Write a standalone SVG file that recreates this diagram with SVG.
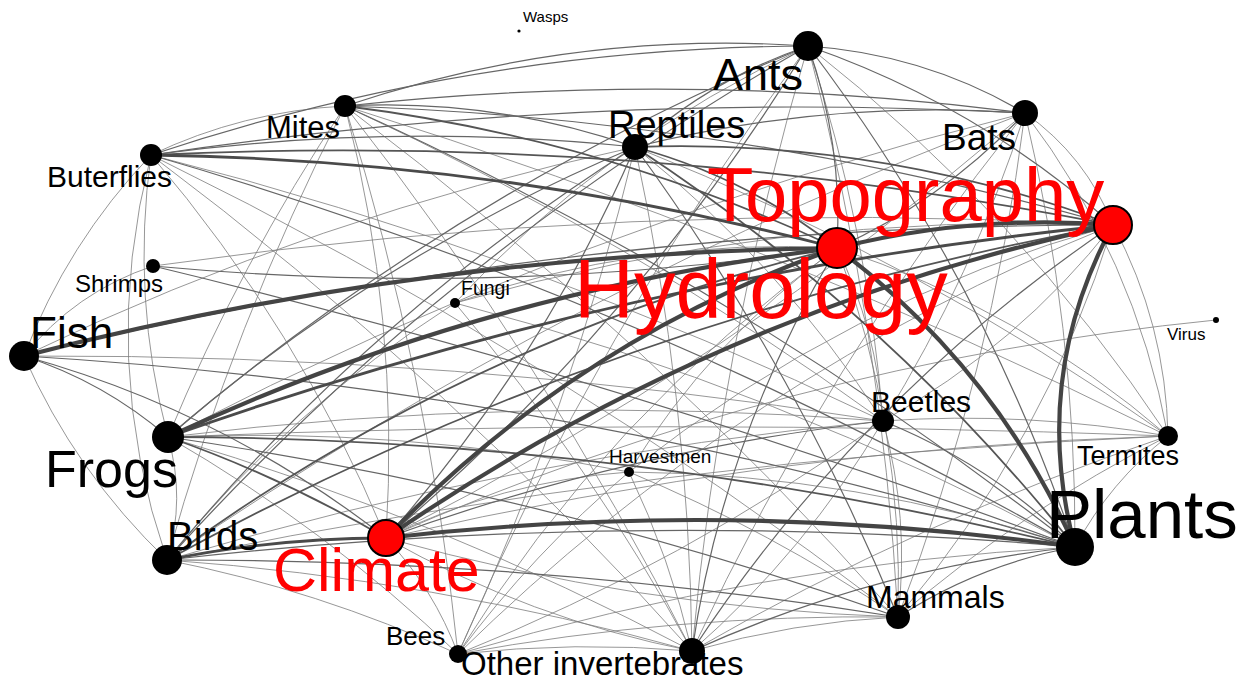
<svg xmlns="http://www.w3.org/2000/svg" width="1247" height="681" viewBox="0 0 1247 681">
<style>
.e path{fill:none;stroke-linecap:round}
.e1{stroke:#7c7c7c;stroke-width:0.8}
.e2{stroke:#666666;stroke-width:1.2}
.e3{stroke:#555555;stroke-width:1.8}
.e4{stroke:#4a4a4a;stroke-width:2.8}
.e5{stroke:#444444;stroke-width:4.2}
.n{fill:#000}
.r{fill:#ff0000;stroke:#000;stroke-width:2}
text{font-family:"Liberation Sans",Arial,sans-serif;fill:#000}
.rt{fill:#ff0000}
</style>
<rect width="1247" height="681" fill="#ffffff"/>
<g id="edges" class="e">
<path class="e1" d="M24 356 Q75 292 153 266"/>
<path class="e1" d="M153 266 Q631 198 1113 225"/>
<path class="e1" d="M386 538 Q784 363 1216 320"/>
<path class="e1" d="M24 356 Q75 472 167 560"/>
<path class="e1" d="M151 155 Q98 360 167 560"/>
<path class="e1" d="M151 155 Q131 298 168 437"/>
<path class="e1" d="M168 437 Q240 263 345 106"/>
<path class="e1" d="M24 356 Q67 243 151 155"/>
<path class="e1" d="M455 303 Q778 211 1113 225"/>
<path class="e1" d="M629 472 Q846 300 1113 225"/>
<path class="e1" d="M458 654 Q743 374 1113 225"/>
<path class="e1" d="M1113 225 Q1018 346 883 421"/>
<path class="e1" d="M1113 225 Q1166 324 1168 436"/>
<path class="e1" d="M1113 225 Q1045 443 898 617"/>
<path class="e1" d="M1025 113 Q1086 156 1113 225"/>
<path class="e1" d="M455 303 Q641 237 837 248"/>
<path class="e1" d="M629 472 Q711 339 837 248"/>
<path class="e1" d="M458 654 Q607 413 837 248"/>
<path class="e1" d="M837 248 Q877 330 883 421"/>
<path class="e1" d="M837 248 Q1021 309 1168 436"/>
<path class="e1" d="M837 248 Q904 426 898 617"/>
<path class="e1" d="M345 106 Q400 319 386 538"/>
<path class="e1" d="M151 155 Q299 328 386 538"/>
<path class="e1" d="M1025 113 Q731 364 386 538"/>
<path class="e1" d="M898 617 Q637 608 386 538"/>
<path class="e1" d="M692 651 Q530 619 386 538"/>
<path class="e1" d="M386 538 Q434 589 458 654"/>
<path class="e1" d="M386 538 Q772 448 1168 436"/>
<path class="e1" d="M386 538 Q501 481 629 472"/>
<path class="e1" d="M1025 113 Q1076 327 1075 547"/>
<path class="e1" d="M1075 547 Q1110 482 1168 436"/>
<path class="e1" d="M458 654 Q760 564 1075 547"/>
<path class="e1" d="M629 472 Q858 474 1075 547"/>
<path class="e1" d="M455 303 Q780 388 1075 547"/>
<path class="e1" d="M808 46 Q868 229 883 421"/>
<path class="e1" d="M808 46 Q1019 212 1168 436"/>
<path class="e1" d="M808 46 Q882 327 898 617"/>
<path class="e1" d="M692 651 Q720 343 808 46"/>
<path class="e1" d="M458 654 Q597 329 808 46"/>
<path class="e1" d="M455 303 Q606 139 808 46"/>
<path class="e1" d="M1025 113 Q1135 257 1168 436"/>
<path class="e1" d="M1025 113 Q992 373 898 617"/>
<path class="e1" d="M1025 113 Q973 276 883 421"/>
<path class="e1" d="M168 437 Q577 224 1025 113"/>
<path class="e1" d="M167 560 Q569 285 1025 113"/>
<path class="e1" d="M692 651 Q826 362 1025 113"/>
<path class="e1" d="M635 147 Q689 396 692 651"/>
<path class="e1" d="M635 147 Q781 264 883 421"/>
<path class="e1" d="M635 147 Q572 409 458 654"/>
<path class="e1" d="M635 147 Q919 260 1168 436"/>
<path class="e1" d="M24 356 Q317 215 635 147"/>
<path class="e1" d="M168 437 Q186 499 167 560"/>
<path class="e1" d="M168 437 Q525 393 883 421"/>
<path class="e1" d="M168 437 Q441 518 692 651"/>
<path class="e1" d="M168 437 Q668 417 1168 436"/>
<path class="e1" d="M168 437 Q401 427 629 472"/>
<path class="e1" d="M167 560 Q318 590 458 654"/>
<path class="e1" d="M167 560 Q434 579 692 651"/>
<path class="e1" d="M167 560 Q518 455 883 421"/>
<path class="e1" d="M167 560 Q663 458 1168 436"/>
<path class="e1" d="M167 560 Q233 324 345 106"/>
<path class="e1" d="M167 560 Q290 409 455 303"/>
<path class="e1" d="M151 155 Q243 111 345 106"/>
<path class="e1" d="M151 155 Q530 251 883 421"/>
<path class="e1" d="M151 155 Q446 376 692 651"/>
<path class="e1" d="M151 155 Q548 349 898 617"/>
<path class="e1" d="M345 106 Q630 237 883 421"/>
<path class="e1" d="M345 106 Q647 334 898 617"/>
<path class="e1" d="M345 106 Q546 361 692 651"/>
<path class="e1" d="M345 106 Q429 374 458 654"/>
<path class="e1" d="M345 106 Q770 238 1168 436"/>
<path class="e1" d="M883 421 Q910 518 898 617"/>
<path class="e1" d="M883 421 Q806 551 692 651"/>
<path class="e1" d="M883 421 Q685 563 458 654"/>
<path class="e1" d="M883 421 Q1026 411 1168 436"/>
<path class="e1" d="M692 651 Q793 622 898 617"/>
<path class="e1" d="M458 654 Q676 614 898 617"/>
<path class="e1" d="M898 617 Q1022 510 1168 436"/>
<path class="e1" d="M629 472 Q771 531 898 617"/>
<path class="e1" d="M458 654 Q575 641 692 651"/>
<path class="e1" d="M629 472 Q670 558 692 651"/>
<path class="e1" d="M692 651 Q919 520 1168 436"/>
<path class="e1" d="M455 303 Q591 465 692 651"/>
<path class="e1" d="M168 437 Q326 528 458 654"/>
<path class="e1" d="M458 654 Q533 553 629 472"/>
<path class="e1" d="M24 356 Q456 354 883 421"/>
<path class="e2" d="M837 248 Q496 298 153 266"/>
<path class="e2" d="M153 266 Q622 379 1075 547"/>
<path class="e2" d="M24 356 Q561 225 1113 225"/>
<path class="e2" d="M345 106 Q736 119 1113 225"/>
<path class="e2" d="M808 46 Q978 105 1113 225"/>
<path class="e2" d="M692 651 Q860 396 1113 225"/>
<path class="e2" d="M808 46 Q843 144 837 248"/>
<path class="e2" d="M1025 113 Q945 199 837 248"/>
<path class="e2" d="M692 651 Q724 435 837 248"/>
<path class="e2" d="M24 356 Q223 411 386 538"/>
<path class="e2" d="M635 147 Q542 362 386 538"/>
<path class="e2" d="M808 46 Q636 326 386 538"/>
<path class="e2" d="M386 538 Q628 450 883 421"/>
<path class="e2" d="M24 356 Q561 388 1075 547"/>
<path class="e2" d="M167 560 Q620 508 1075 547"/>
<path class="e2" d="M151 155 Q637 296 1075 547"/>
<path class="e2" d="M345 106 Q737 283 1075 547"/>
<path class="e2" d="M808 46 Q982 275 1075 547"/>
<path class="e2" d="M883 421 Q992 465 1075 547"/>
<path class="e2" d="M898 617 Q980 564 1075 547"/>
<path class="e2" d="M692 651 Q875 568 1075 547"/>
<path class="e2" d="M635 147 Q711 79 808 46"/>
<path class="e2" d="M345 106 Q571 30 808 46"/>
<path class="e2" d="M151 155 Q471 48 808 46"/>
<path class="e2" d="M808 46 Q925 54 1025 113"/>
<path class="e2" d="M168 437 Q457 190 808 46"/>
<path class="e2" d="M167 560 Q446 252 808 46"/>
<path class="e2" d="M345 106 Q685 69 1025 113"/>
<path class="e2" d="M151 155 Q586 90 1025 113"/>
<path class="e2" d="M635 147 Q827 99 1025 113"/>
<path class="e2" d="M168 437 Q378 255 635 147"/>
<path class="e2" d="M167 560 Q368 316 635 147"/>
<path class="e2" d="M345 106 Q494 98 635 147"/>
<path class="e2" d="M151 155 Q393 122 635 147"/>
<path class="e2" d="M635 147 Q795 366 898 617"/>
<path class="e2" d="M24 356 Q104 382 168 437"/>
<path class="e2" d="M168 437 Q542 491 898 617"/>
<path class="e2" d="M167 560 Q535 559 898 617"/>
<path class="e3" d="M345 106 Q602 138 837 248"/>
<path class="e3" d="M151 155 Q636 132 1113 225"/>
<path class="e3" d="M167 560 Q613 317 1113 225"/>
<path class="e3" d="M167 560 Q471 337 837 248"/>
<path class="e3" d="M635 147 Q746 177 837 248"/>
<path class="e3" d="M635 147 Q882 138 1113 225"/>
<path class="e3" d="M635 147 Q887 312 1075 547"/>
<path class="e3" d="M168 437 Q282 477 386 538"/>
<path class="e3" d="M168 437 Q628 438 1075 547"/>
<path class="e4" d="M168 437 Q628 274 1113 225"/>
<path class="e4" d="M151 155 Q500 160 837 248"/>
<path class="e4" d="M167 560 Q275 538 386 538"/>
<path class="e5" d="M24 356 Q424 253 837 248"/>
<path class="e5" d="M168 437 Q487 289 837 248"/>
<path class="e5" d="M386 538 Q577 339 837 248"/>
<path class="e5" d="M386 538 Q718 309 1113 225"/>
<path class="e5" d="M386 538 Q731 498 1075 547"/>
<path class="e5" d="M837 248 Q973 214 1113 225"/>
<path class="e5" d="M837 248 Q995 367 1075 547"/>
<path class="e5" d="M1075 547 Q1030 378 1113 225"/>
</g>
<g id="node-wasps"><circle class="n" cx="519" cy="31" r="1.6"/><text x="523" y="22" font-size="15">Wasps</text></g>
<g id="node-ants"><circle class="n" cx="808" cy="46" r="15"/><text x="713" y="90" font-size="45">Ants</text></g>
<g id="node-mites"><circle class="n" cx="345" cy="106" r="11"/><text x="266" y="138" font-size="31">Mites</text></g>
<g id="node-bats"><circle class="n" cx="1025" cy="113" r="13"/><text x="942" y="150" font-size="37">Bats</text></g>
<g id="node-reptiles"><circle class="n" cx="635" cy="147" r="13"/><text x="608" y="138" font-size="38">Reptiles</text></g>
<g id="node-buterflies"><circle class="n" cx="151" cy="155" r="11"/><text x="47" y="187" font-size="30">Buterflies</text></g>
<g id="node-topography"><circle class="r" cx="1113" cy="225" r="19"/><text class="rt" x="707" y="221" font-size="76">Topography</text></g>
<g id="node-hydrology"><circle class="r" cx="837" cy="248" r="20"/><text class="rt" x="574" y="318" font-size="83">Hydrology</text></g>
<g id="node-shrimps"><circle class="n" cx="153" cy="266" r="7"/><text x="75" y="292" font-size="24">Shrimps</text></g>
<g id="node-fungi"><circle class="n" cx="455" cy="303" r="5"/><text x="461" y="295" font-size="19.5">Fungi</text></g>
<g id="node-virus"><circle class="n" cx="1216" cy="320" r="3"/><text x="1167" y="340" font-size="17">Virus</text></g>
<g id="node-fish"><circle class="n" cx="24" cy="356" r="15"/><text x="30" y="348" font-size="44">Fish</text></g>
<g id="node-beetles"><circle class="n" cx="883" cy="421" r="11"/><text x="871" y="412" font-size="30">Beetles</text></g>
<g id="node-frogs"><circle class="n" cx="168" cy="437" r="16"/><text x="45" y="487" font-size="52">Frogs</text></g>
<g id="node-termites"><circle class="n" cx="1168" cy="436" r="10"/><text x="1077" y="465" font-size="27">Termites</text></g>
<g id="node-harvestmen"><circle class="n" cx="629" cy="472" r="5"/><text x="609" y="463" font-size="19">Harvestmen</text></g>
<g id="node-plants"><circle class="n" cx="1075" cy="547" r="19"/><text x="1046" y="538" font-size="69">Plants</text></g>
<g id="node-birds"><circle class="n" cx="167" cy="560" r="15"/><text x="167" y="550" font-size="40">Birds</text></g>
<g id="node-climate"><circle class="r" cx="386" cy="538" r="18"/><text class="rt" x="273" y="591" font-size="61">Climate</text></g>
<g id="node-mammals"><circle class="n" cx="898" cy="617" r="12"/><text x="866" y="608" font-size="32">Mammals</text></g>
<g id="node-bees"><circle class="n" cx="458" cy="654" r="9"/><text x="386" y="645" font-size="26">Bees</text></g>
<g id="node-other-invertebrates"><circle class="n" cx="692" cy="651" r="13"/><text x="461" y="675" font-size="33">Other invertebrates</text></g>
</svg>
